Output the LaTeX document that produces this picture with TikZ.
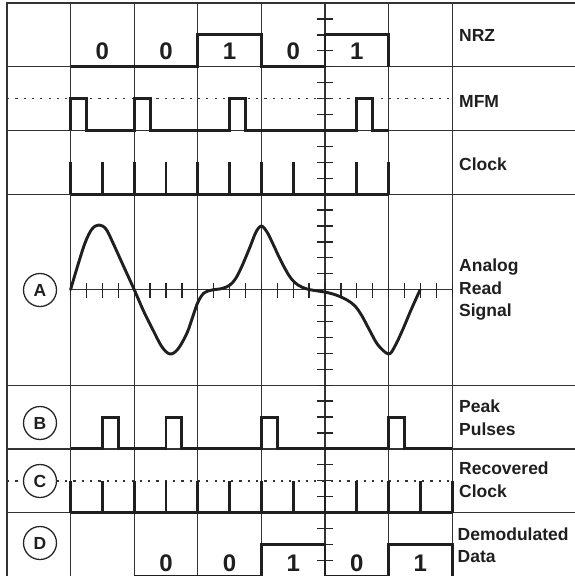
\documentclass[tikz,border=0pt]{standalone}
\usepackage{fontspec}
\setmainfont{Liberation Sans}
\begin{document}
\begin{tikzpicture}[x=1pt,y=-1pt,
  gridline/.style={line width=1.2pt, draw=black!80},
  framel/.style={line width=2pt, draw=black!80},
  sig/.style={line width=2.9pt, draw=black!88, line join=miter},
  dotline/.style={line width=1.6pt, draw=black!80, dash pattern=on 2.2pt off 6.1pt},
  tickl/.style={line width=1.3pt, draw=black!85},
  lbl/.style={anchor=base west, inner sep=0pt, font=\fontsize{17.5}{20}\selectfont\bfseries, text=black!88},
  digit/.style={anchor=base, inner sep=0pt, font=\fontsize{24}{28}\selectfont\bfseries, text=black!88},
  tagcircle/.style={circle, draw=black!85, fill=white, line width=1.3pt, minimum size=33pt, inner sep=0pt, font=\fontsize{17.5}{20}\selectfont\bfseries, text=black!88},
]
\useasboundingbox (0,0) rectangle (575,576);
\fill[white] (0,0) rectangle (575,576);

% grid
\foreach \j in {1,2,3,6,7,8,9} \draw[gridline] (7,{3+63.7*\j}) -- (575,{3+63.7*\j});
\foreach \i in {1,...,7} \draw[gridline] ({7+63.6*\i},3) -- ({7+63.6*\i},577);
\draw[framel] (7,577) -- (7,3) -- (575,3);

% centre axis ticks
\foreach \k in {1,...,35} \draw[tickl] (317,{3+15.925*\k}) -- (333,{3+15.925*\k});
% analog axis
\draw[gridline, line width=1.4pt] (70.6,289.65) -- (452.2,289.65);
\foreach \k in {0,...,24} \draw[tickl] ({70.6+15.9*\k},283) -- ({70.6+15.9*\k},298);

\begin{scope}[shift={(7,3)}, x=63.6pt, y=-63.7pt]
  % NRZ
  \draw[sig] (1,1) -- (3,1) -- (3,0.5) -- (4,0.5) -- (4,1) -- (5,1) -- (5,0.5) -- (6,0.5) -- (6,1);
  \node[digit] (n1) at (1.5,0.882) {0};
  \node[digit] (n2) at (2.5,0.882) {0};
  \node[digit] (n3) at (3.5,0.882) {1};
  \node[digit] (n4) at (4.5,0.882) {0};
  \node[digit] (n5) at (5.5,0.882) {1};
  % MFM
  \draw[dotline] (0,1.5) -- (7,1.5);
  \draw[sig] (1,2) -- (1,1.5) -- (1.25,1.5) -- (1.25,2) -- (2,2) -- (2,1.5) -- (2.25,1.5) -- (2.25,2) -- (3.5,2) -- (3.5,1.5) -- (3.75,1.5) -- (3.75,2) -- (5.5,2) -- (5.5,1.5) -- (5.75,1.5) -- (5.75,2) -- (6,2);
  % Clock
  \draw[sig] (1,3) -- (6,3);
  \foreach \t in {1,1.5,...,6} \draw[sig] (\t,3) -- (\t,2.5);
  % Peak pulses
  \draw[sig] (1,7) -- (1.5,7) -- (1.5,6.5) -- (1.75,6.5) -- (1.75,7) -- (2.5,7) -- (2.5,6.5) -- (2.75,6.5) -- (2.75,7) -- (4,7) -- (4,6.5) -- (4.25,6.5) -- (4.25,7) -- (6,7) -- (6,6.5) -- (6.25,6.5) -- (6.25,7) -- (7,7);
  % Recovered clock
  \draw[dotline] (0,7.5) -- (7,7.5);
  \draw[sig] (1,8) -- (7,8);
  \foreach \t in {1,1.5,...,7} \draw[sig] (\t,8) -- (\t,7.5);
  % Demodulated data
  \draw[sig] (2,9) -- (4,9) -- (4,8.5) -- (5,8.5) -- (5,9) -- (6,9) -- (6,8.5) -- (7,8.5) -- (7,9);
  \node[digit] (d1) at (2.5,8.917) {0};
  \node[digit] (d2) at (3.5,8.917) {0};
  \node[digit] (d3) at (4.5,8.917) {1};
  \node[digit] (d4) at (5.5,8.917) {0};
  \node[digit] (d5) at (6.5,8.917) {1};
\end{scope}

% analog read signal
\draw[sig, line join=round, line cap=round] plot[smooth, tension=0.55] coordinates {
 (70.6,289.6) (77,268) (85,243) (92,229) (99,225) (106,229) (113,243) (123,265)
 (134.2,289.6) (144,312) (153,330) (162,347) (170,354) (178,349) (187,333) (193,316)
 (198,302) (204,293) (212,290) (222,288.5) (230,285) (236,278) (242,266) (250,247)
 (256,232) (261.4,226) (267,232) (273,244) (281,261) (290,277) (298,285) (307,289)
 (318,291) (325,292) (336,295) (347,300) (355,306) (362,316) (370,331) (378,345)
 (388.6,354) (395,346) (403,329) (411,310) (420,290)};

% circled tags
\node[tagcircle] (ta) at (40,290) {A};
\node[tagcircle] (tb) at (40,423) {B};
\node[tagcircle] (tc) at (40,481) {C};
\node[tagcircle] (td) at (40,543) {D};

% labels
\node[lbl] (l1) at (459,41.6) {NRZ};
\node[lbl] (l2) at (459,107) {MFM};
\node[lbl] (l3) at (459,170) {Clock};
\node[lbl] (l4a) at (459,271.5) {Analog};
\node[lbl] (l4b) at (459,294) {Read};
\node[lbl] (l4c) at (459,316.5) {Signal};
\node[lbl] (l5a) at (459,412.7) {Peak};
\node[lbl] (l5b) at (459,435) {Pulses};
\node[lbl] (l6a) at (459,474) {Recovered};
\node[lbl] (l6b) at (459,497) {Clock};
\node[lbl] (l7a) at (457.5,540) {Demodulated};
\node[lbl] (l7b) at (457.5,562.7) {Data};
\end{tikzpicture}
\end{document}
